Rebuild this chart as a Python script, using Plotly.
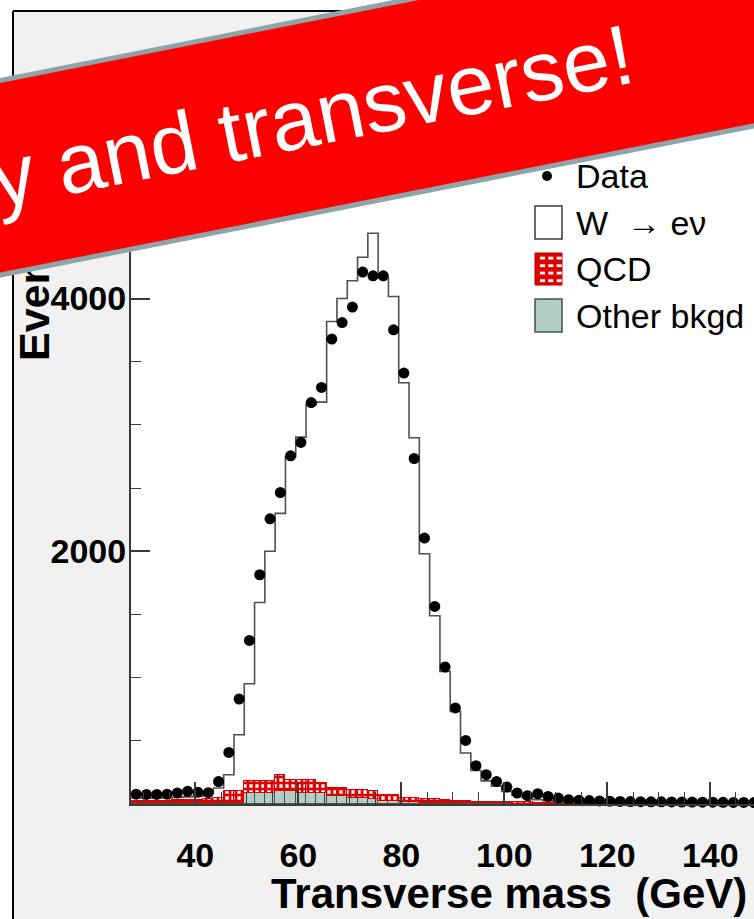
import numpy as np
import plotly.graph_objects as go

# ---- histogram contents (2 GeV bins, 27.5 - 149.5 GeV) ----
bin_width = 2.0
bin_centers = np.arange(28.5, 149.0, 2.0)

data_counts = [78, 76, 76, 78, 88, 100, 92, 90, 178, 408,
               831, 1294, 1814, 2257, 2465, 2755, 2861, 3177, 3296, 3679,
               3810, 3932, 4209, 4180, 4180, 3752, 3410, 2734, 2104, 1563,
               1084, 760, 503, 303, 232, 179, 134, 87, 66, 81,
               60, 47, 34, 30, 27, 24, 22, 20, 19, 18,
               17, 17, 16, 15, 15, 14, 14, 13, 12, 12, 11]

w_enu = [23, 21, 21, 21, 24, 28, 31, 45, 77, 132,
         448, 773, 1416, 1821, 2068, 2558, 2711, 2968, 3014, 3691,
         3873, 4027, 4214, 4417, 4086, 3942, 3283, 2853, 1940, 1452,
         1014, 708, 381, 246, 165, 124, 85, 57, 36, 24,
         16, 11, 8, 7, 5, 5, 4, 3, 3, 3,
         2, 2, 2, 1, 2, 2, 2, 1, 1, 1, 1]

qcd = [20, 20, 20, 22, 22, 22, 24, 32, 41, 90,
       90, 92, 92, 92, 132, 92, 105, 105, 79, 67,
       67, 63, 66, 60, 48, 48, 35, 33, 30, 29,
       27, 18, 16, 14, 13, 12, 11, 10, 9, 8,
       7, 6, 5, 4, 4, 3, 3, 3, 2, 2,
       2, 2, 2, 2, 1, 1, 1, 1, 1, 1, 1]

other_bkgd = [5, 5, 5, 5, 6, 6, 7, 8, 9, 10,
              10, 87, 87, 87, 100, 100, 87, 87, 87, 60,
              60, 50, 47, 40, 26, 26, 15, 12, 10, 9,
              8, 7, 6, 5, 5, 4, 4, 3, 3, 2,
              2, 2, 2, 1, 1, 1, 1, 1, 1, 1,
              1, 1, 1, 1, 1, 1, 1, 1, 1, 1, 1]

x_tick_vals = [40, 60, 80, 100, 120, 140]
y_tick_vals = [2000, 4000]
x_range = [27.5, 148.5]
y_range = [0, 5650]

legend_labels = ["Data", "W&nbsp; \u2192 e\u03bd", "QCD", "Other bkgd"]
banner_text = "y and transverse!"

# ---- page geometry ----
FIG_W, FIG_H = 754, 919
M_L, M_R, M_T, M_B = 131, 0, 90, 115
PW = FIG_W - M_L - M_R
PH = FIG_H - M_T - M_B


def px(x):
    return (x - M_L) / PW


def py(y):
    return (FIG_H - M_B - y) / PH


FONT = "Liberation Sans, Arial, Helvetica, sans-serif"
OTHER_COLOR = "#b2cdc6"
QCD_RED = "#e00000"
LINE_DARK = "#3a3a3a"

# stacked histogram top (other + qcd + signal)
stack_top = np.array(other_bkgd) + np.array(qcd) + np.array(w_enu)
edges = np.append(bin_centers - bin_width / 2, bin_centers[-1] + bin_width / 2)
outline_y = np.append(stack_top, stack_top[-1])

fig = go.Figure()

fig.add_trace(go.Bar(
    x=bin_centers, y=other_bkgd, width=bin_width,
    marker=dict(color=OTHER_COLOR, line=dict(color="#44524e", width=1)),
    name="Other bkgd",
))
fig.add_trace(go.Bar(
    x=bin_centers, y=qcd, width=bin_width,
    marker=dict(color=QCD_RED,
                line=dict(color=QCD_RED, width=1.5),
                pattern=dict(shape="+", fgcolor=QCD_RED, bgcolor="white",
                             size=6, solidity=0.7, fillmode="replace")),
    name="QCD",
))
fig.add_trace(go.Scatter(
    x=edges, y=outline_y, mode="lines", line_shape="hv",
    line=dict(color="#505050", width=1.6),
    name="W \u2192 e\u03bd",
))
fig.add_trace(go.Scatter(
    x=bin_centers, y=data_counts, mode="markers",
    marker=dict(color="black", size=11),
    cliponaxis=False, name="Data",
))

tick_font = dict(family=FONT, size=34, color="black", weight="bold")

fig.update_xaxes(
    range=x_range, tickvals=x_tick_vals, ticks="inside", ticklen=22,
    tickwidth=1.5, tickcolor=LINE_DARK, showline=True, linecolor=LINE_DARK,
    linewidth=2, showgrid=False, zeroline=False, tickfont=tick_font,
    ticklabelstandoff=20,
    minor=dict(ticks="inside", ticklen=12, dtick=5, tickwidth=1.2,
               tickcolor=LINE_DARK, showgrid=False),
)
fig.update_yaxes(
    range=y_range, tickvals=y_tick_vals, ticks="inside", ticklen=19,
    tickwidth=1.5, tickcolor=LINE_DARK, showline=True, linecolor=LINE_DARK,
    linewidth=2, showgrid=False, zeroline=False, tickfont=tick_font,
    ticklabelstandoff=-4,
    minor=dict(ticks="inside", ticklen=10, dtick=500, tickwidth=1.2,
               tickcolor=LINE_DARK, showgrid=False),
)

shapes = [
    # white page strips outside the outer frame
    dict(type="rect", xref="paper", yref="paper", layer="below",
         x0=px(-5), x1=px(12.5), y0=py(930), y1=py(-5),
         fillcolor="white", line=dict(width=0)),
    dict(type="rect", xref="paper", yref="paper", layer="below",
         x0=px(-5), x1=px(760), y0=py(10.5), y1=py(-5),
         fillcolor="white", line=dict(width=0)),
    # outer frame
    dict(type="line", xref="paper", yref="paper", layer="below",
         x0=px(13), x1=px(13), y0=py(11), y1=py(925),
         line=dict(color="black", width=2)),
    dict(type="line", xref="paper", yref="paper", layer="below",
         x0=px(13), x1=px(760), y0=py(11), y1=py(11),
         line=dict(color="black", width=2)),
]

# legend: Data marker
shapes.append(dict(type="circle", xref="paper", yref="paper",
                   x0=px(542), x1=px(552), y0=py(171), y1=py(181),
                   fillcolor="black", line=dict(width=0)))
# legend: W box
shapes.append(dict(type="rect", xref="paper", yref="paper",
                   x0=px(535), x1=px(562), y0=py(239), y1=py(206),
                   fillcolor="white", line=dict(color=LINE_DARK, width=1.5)))
# legend: QCD box with hatch
shapes.append(dict(type="rect", xref="paper", yref="paper",
                   x0=px(535), x1=px(562), y0=py(285), y1=py(253),
                   fillcolor=QCD_RED, line=dict(color="#b00000", width=1)))
for cx in (540, 548.3, 556.7):
    for cy in (256.7, 264.3, 271.7, 279.3):
        shapes.append(dict(type="rect", xref="paper", yref="paper",
                           x0=px(cx), x1=px(cx + 5), y0=py(cy + 2.8), y1=py(cy),
                           fillcolor="white", line=dict(width=0)))
# legend: other background box
shapes.append(dict(type="rect", xref="paper", yref="paper",
                   x0=px(535), x1=px(562), y0=py(332), y1=py(299),
                   fillcolor=OTHER_COLOR, line=dict(color="#44524e", width=1.5)))

annotations = []
legend_rows = [176, 222.5, 269, 315.5]
for label, row in zip(legend_labels, legend_rows):
    annotations.append(dict(
        text=label, xref="paper", yref="paper", x=px(574), y=py(row),
        xanchor="left", yanchor="middle", showarrow=False,
        font=dict(family=FONT, size=34, color="black"),
    ))

# axis titles
annotations.append(dict(
    text="Transverse mass&nbsp; (GeV)", xref="paper", yref="paper",
    x=px(749), y=py(893), xanchor="right", yanchor="middle", showarrow=False,
    font=dict(family=FONT, size=42, color="black", weight="bold"),
))
annotations.append(dict(
    text="Events", xref="paper", yref="paper", textangle=-90,
    x=px(34), y=py(291), xanchor="center", yanchor="middle", showarrow=False,
    font=dict(family=FONT, size=43, color="black", weight="bold"),
))

# red banner across the top
annotations.append(dict(
    text=banner_text, xref="paper", yref="paper",
    x=px(312), y=py(115.6), xanchor="center", yanchor="middle",
    showarrow=False, textangle=-11.2,
    width=1000, height=186, align="center", valign="middle",
    bgcolor="#ff0000", bordercolor="#8ea4a6", borderwidth=5, borderpad=0,
    font=dict(family=FONT, size=85, color="white"),
))

fig.update_layout(
    width=FIG_W, height=FIG_H, autosize=False,
    margin=dict(l=M_L, r=M_R, t=M_T, b=M_B, pad=0),
    paper_bgcolor="#f1f1f1", plot_bgcolor="white",
    barmode="stack", bargap=0, showlegend=False,
    shapes=shapes, annotations=annotations,
)

fig.write_html("out.html")
